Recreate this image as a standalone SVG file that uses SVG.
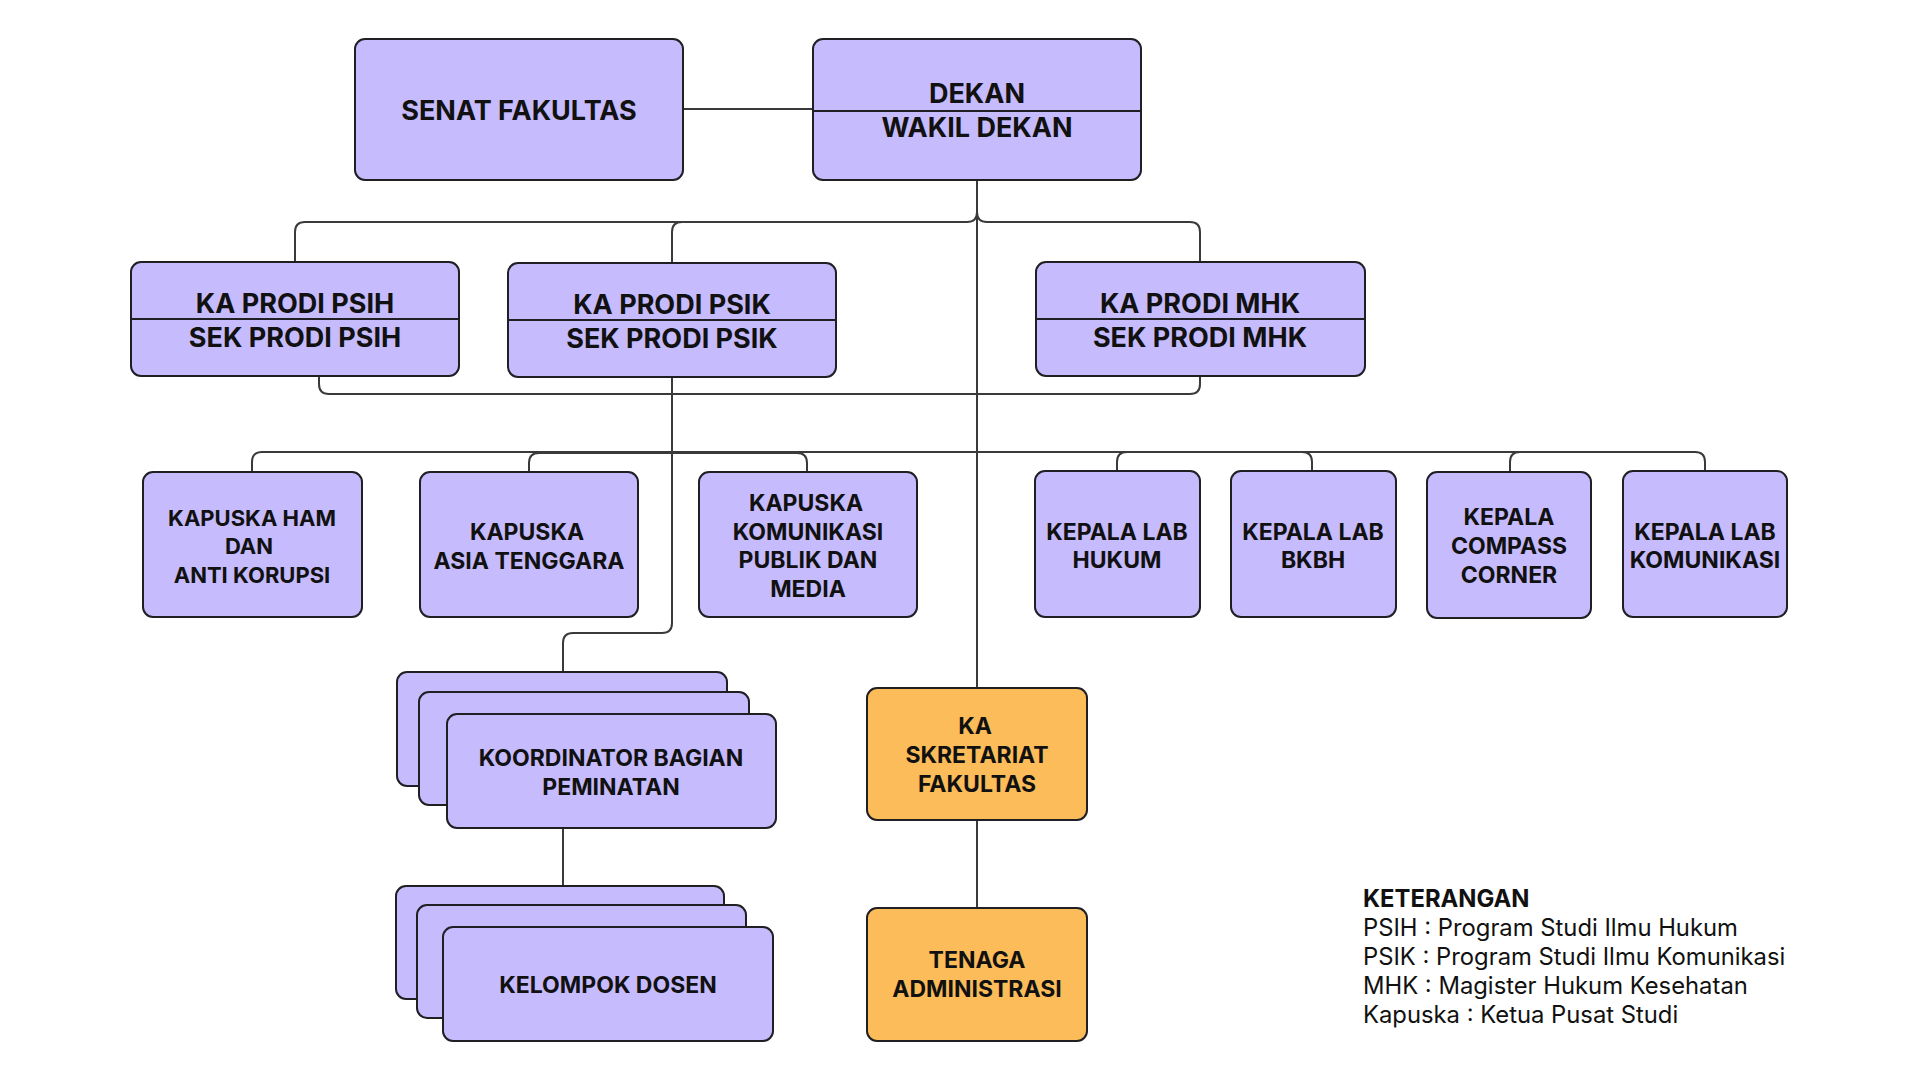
<svg xmlns="http://www.w3.org/2000/svg" width="1920" height="1080" viewBox="0 0 1920 1080">
<style>
.box{fill:#C6BBFD;stroke:#1f1f24;stroke-width:2}
.org{fill:#FCBC59;stroke:#1f1f24;stroke-width:2}
.div{stroke:#1f1f24;stroke-width:2}
.c{fill:none;stroke:#3a3a3a;stroke-width:2}
.t1{font-family:Inter,"Liberation Sans",sans-serif;font-weight:700;font-size:27px;fill:#111;text-anchor:middle}
.t2{font-family:Inter,"Liberation Sans",sans-serif;font-weight:700;font-size:23px;fill:#111;text-anchor:middle}
.s22{font-size:22px}
.lg{font-family:Inter,"Liberation Sans",sans-serif;font-size:23.8px;fill:#111}
.lgb{font-family:Inter,"Liberation Sans",sans-serif;font-size:23.8px;font-weight:700;fill:#111}
</style>
<rect width="1920" height="1080" fill="#ffffff"/>
<g id="connectors">
<path class="c" d="M683,109 H813"/>
<path class="c" d="M977,180 V212 Q977,222 967,222 H305 Q295,222 295,232 V262"/>
<path class="c" d="M977,180 V212 Q977,222 987,222 H1190 Q1200,222 1200,232 V262"/>
<path class="c" d="M967,222 H682 Q672,222 672,232 V263"/>
<path class="c" d="M977,180 V688"/>
<path class="c" d="M319,376 V384 Q319,394 329,394 H1190 Q1200,394 1200,384 V376"/>
<path class="c" d="M672,377 V623 Q672,633 662,633 H573 Q563,633 563,643 V672"/>
<path class="c" d="M252,472 V462 Q252,452 262,452 H1695 Q1705,452 1705,462 V472"/>
<path class="c" d="M529,472 V463 Q529,453 539,453 H797 Q807,453 807,463 V472"/>
<path class="c" d="M1117,471 V462 Q1117,452 1127,452 H1302 Q1312,452 1312,462 V471"/>
<path class="c" d="M1510,472 V462 Q1510,452 1520,452 H1695"/>
<path class="c" d="M563,828 V886"/>
<path class="c" d="M977,820 V908"/>
</g>
<g id="senat">
<rect class="box" x="355" y="39" width="328" height="141" rx="10"/>
<text class="t1" x="519" y="120">SENAT FAKULTAS</text>
</g>
<g id="dekan">
<rect class="box" x="813" y="39" width="328" height="141" rx="10"/>
<line class="div" x1="813" y1="111" x2="1141" y2="111"/>
<text class="t1" x="977" y="103">DEKAN</text>
<text class="t1" x="977" y="137">WAKIL DEKAN</text>
</g>
<g id="prodi-psih">
<rect class="box" x="131" y="262" width="328" height="114" rx="10"/>
<line class="div" x1="131" y1="319" x2="459" y2="319"/>
<text class="t1" x="295" y="313">KA PRODI PSIH</text>
<text class="t1" x="295" y="347">SEK PRODI PSIH</text>
</g>
<g id="prodi-psik">
<rect class="box" x="508" y="263" width="328" height="114" rx="10"/>
<line class="div" x1="508" y1="320" x2="836" y2="320"/>
<text class="t1" x="672" y="314">KA PRODI PSIK</text>
<text class="t1" x="672" y="348">SEK PRODI PSIK</text>
</g>
<g id="prodi-mhk">
<rect class="box" x="1036" y="262" width="329" height="114" rx="10"/>
<line class="div" x1="1036" y1="319" x2="1365" y2="319"/>
<text class="t1" x="1200" y="313">KA PRODI MHK</text>
<text class="t1" x="1200" y="347">SEK PRODI MHK</text>
</g>
<g id="kapuska-ham">
<rect class="box" x="143" y="472" width="219" height="145" rx="10"/>
<text class="t2 s22" x="252" y="526">KAPUSKA HAM</text>
<text class="t2 s22" x="249" y="554">DAN</text>
<text class="t2 s22" x="252" y="583">ANTI KORUPSI</text>
</g>
<g id="kapuska-asia">
<rect class="box" x="420" y="472" width="218" height="145" rx="10"/>
<text class="t2" x="527" y="540">KAPUSKA</text>
<text class="t2" x="529" y="569">ASIA TENGGARA</text>
</g>
<g id="kapuska-kom">
<rect class="box" x="699" y="472" width="218" height="145" rx="10"/>
<text class="t2" x="806" y="511">KAPUSKA</text>
<text class="t2" x="808" y="540">KOMUNIKASI</text>
<text class="t2" x="808" y="568">PUBLIK DAN</text>
<text class="t2" x="808" y="597">MEDIA</text>
</g>
<g id="lab-hukum">
<rect class="box" x="1035" y="471" width="165" height="146" rx="10"/>
<text class="t2" x="1117" y="540">KEPALA LAB</text>
<text class="t2" x="1117" y="568">HUKUM</text>
</g>
<g id="lab-bkbh">
<rect class="box" x="1231" y="471" width="165" height="146" rx="10"/>
<text class="t2" x="1313" y="540">KEPALA LAB</text>
<text class="t2" x="1313" y="568">BKBH</text>
</g>
<g id="compass">
<rect class="box" x="1427" y="472" width="164" height="146" rx="10"/>
<text class="t2" x="1509" y="525">KEPALA</text>
<text class="t2" x="1509" y="554">COMPASS</text>
<text class="t2" x="1509" y="583">CORNER</text>
</g>
<g id="lab-kom">
<rect class="box" x="1623" y="471" width="164" height="146" rx="10"/>
<text class="t2" x="1705" y="540">KEPALA LAB</text>
<text class="t2" x="1705" y="568">KOMUNIKASI</text>
</g>
<g id="koordinator">
<rect class="box" x="397" y="672" width="330" height="114" rx="10"/>
<rect class="box" x="419" y="692" width="330" height="113" rx="10"/>
<rect class="box" x="447" y="714" width="329" height="114" rx="10"/>
<text class="t2" x="611" y="766" font-size="24">KOORDINATOR BAGIAN</text>
<text class="t2" x="611" y="795" font-size="24">PEMINATAN</text>
</g>
<g id="kelompok">
<rect class="box" x="396" y="886" width="328" height="113" rx="10"/>
<rect class="box" x="417" y="905" width="329" height="113" rx="10"/>
<rect class="box" x="443" y="927" width="330" height="114" rx="10"/>
<text class="t2" x="608" y="993">KELOMPOK DOSEN</text>
</g>
<g id="sekretariat">
<rect class="org" x="867" y="688" width="220" height="132" rx="10"/>
<text class="t2" x="975" y="734">KA</text>
<text class="t2" x="977" y="763">SKRETARIAT</text>
<text class="t2" x="977" y="792">FAKULTAS</text>
</g>
<g id="tenaga">
<rect class="org" x="867" y="908" width="220" height="133" rx="10"/>
<text class="t2" x="977" y="968">TENAGA</text>
<text class="t2" x="977" y="997">ADMINISTRASI</text>
</g>
<g id="legend">
<text class="lgb" x="1363" y="907">KETERANGAN</text>
<text class="lg" x="1363" y="936">PSIH : Program Studi Ilmu Hukum</text>
<text class="lg" x="1363" y="965">PSIK : Program Studi Ilmu Komunikasi</text>
<text class="lg" x="1363" y="994">MHK : Magister Hukum Kesehatan</text>
<text class="lg" x="1363" y="1023">Kapuska : Ketua Pusat Studi</text>
</g>
</svg>
